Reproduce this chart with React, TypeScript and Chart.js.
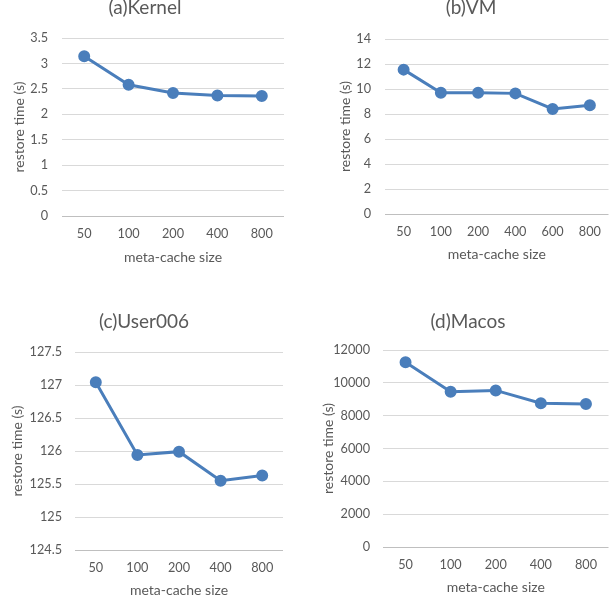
import React, { useEffect, useRef } from "react";
import { Chart, registerables } from "chart.js";

Chart.register(...registerables);

// ---- data ----
const kernelSizes = ["50", "100", "200", "400", "800"];
const kernelTimes = [3.14, 2.58, 2.42, 2.37, 2.36];

const vmSizes = ["50", "100", "200", "400", "600", "800"];
const vmTimes = [11.55, 9.7, 9.7, 9.65, 8.4, 8.7];

const userSizes = ["50", "100", "200", "400", "800"];
const userTimes = [127.04, 125.94, 125.99, 125.55, 125.63];

const macosSizes = ["50", "100", "200", "400", "800"];
const macosTimes = [11250, 9460, 9540, 8760, 8710];

const xAxisLabel = "meta-cache size";
const yAxisLabel = "restore time (s)";

// ---- style ----
const FONT = "Lato, 'Open Sans', sans-serif";
const TEXT = "#595959";
const LINE = "#4a7ebb";
const TITLE_SIZE = 19;
const AXIS_SIZE = 14;
const TICK_SIZE = 12.7;

type Box = { left: number; top: number; width: number; height: number };
type Area = { left: number; right: number; top: number; bottom: number };

type PanelProps = {
  title: string;
  labels: string[];
  values: number[];
  min: number;
  max: number;
  step: number;
  box: Box;
  area: Area;
  titleCY: number;
  yTitleCX: number;
  xTitleCY: number;
  yTickPad: number;
};

function Panel(p: PanelProps) {
  const ref = useRef<HTMLCanvasElement | null>(null);
  useEffect(() => {
    if (!ref.current) return;
    const { box, area } = p;
    const padRight = box.left + box.width - area.right;
    const yWidth = area.left - box.left;
    const xHeight = box.top + box.height - area.bottom;
    const tLH = TITLE_SIZE * 1.2;
    const tTop = p.titleCY - box.top - tLH / 2;
    const tBottom = area.top - box.top - tTop - tLH;
    const aLH = AXIS_SIZE * 1.2;
    const kLH = TICK_SIZE * 1.2;
    const yTitlePad = Math.max(0, p.yTitleCX - box.left - aLH / 2);
    const xTitlePad = Math.max(0, box.top + box.height - p.xTitleCY - aLH / 2);
    const xTickPad = 18 - kLH / 2;

    const chart = new Chart(ref.current, {
      type: "line",
      data: {
        labels: p.labels,
        datasets: [
          {
            data: p.values,
            borderColor: LINE,
            backgroundColor: LINE,
            pointBackgroundColor: LINE,
            pointBorderColor: LINE,
            borderWidth: 3,
            pointRadius: 4.5,
            tension: 0,
          },
        ],
      },
      options: {
        animation: false,
        responsive: false,
        layout: { padding: { left: 0, top: 0, right: padRight, bottom: 0 } },
        plugins: {
          legend: { display: false },
          tooltip: { enabled: false },
          title: {
            display: true,
            text: p.title,
            color: TEXT,
            font: { family: FONT, size: TITLE_SIZE, weight: "normal" },
            padding: { top: tTop, bottom: tBottom },
          },
        },
        scales: {
          x: {
            type: "category",
            offset: true,
            grid: { display: false, drawTicks: false },
            border: { display: false },
            ticks: {
              color: TEXT,
              font: { family: FONT, size: TICK_SIZE },
              padding: xTickPad,
              maxRotation: 0,
              autoSkip: false,
            },
            title: {
              display: true,
              text: xAxisLabel,
              color: TEXT,
              font: { family: FONT, size: AXIS_SIZE },
              padding: { top: 0, bottom: xTitlePad },
            },
            afterFit: (s: any) => {
              s.height = xHeight;
            },
          },
          y: {
            min: p.min,
            max: p.max,
            grid: {
              color: (ctx: any) => (ctx.index === 0 ? "#bfbfbf" : "#d9d9d9"),
              lineWidth: 1,
              drawTicks: false,
            },
            border: { display: false },
            ticks: {
              stepSize: p.step,
              color: TEXT,
              font: { family: FONT, size: TICK_SIZE },
              padding: p.yTickPad,
              callback: (v: any) => String(v),
            },
            title: {
              display: true,
              text: yAxisLabel,
              color: TEXT,
              font: { family: FONT, size: AXIS_SIZE },
              padding: { top: yTitlePad, bottom: 0 },
            },
            afterFit: (s: any) => {
              s.width = yWidth;
            },
          },
        },
      },
    });
    return () => chart.destroy();
  }, []);
  return (
    <canvas
      ref={ref}
      width={p.box.width}
      height={p.box.height}
      style={{
        position: "absolute",
        left: p.box.left,
        top: p.box.top,
        width: p.box.width,
        height: p.box.height,
      }}
    />
  );
}

export default function App() {
  return (
    <div
      style={{
        position: "fixed",
        left: 0,
        top: 0,
        width: 616,
        height: 603,
        overflow: "hidden",
        background: "#ffffff",
      }}
    >
      <Panel
        title="(a)Kernel"
        labels={kernelSizes}
        values={kernelTimes}
        min={0}
        max={3.5}
        step={0.5}
        box={{ left: 6, top: -12, width: 294, height: 282 }}
        area={{ left: 62, right: 284, top: 38, bottom: 216 }}
        titleCY={8}
        yTitleCX={19}
        xTitleCY={257}
        yTickPad={14}
      />
      <Panel
        title="(b)VM"
        labels={vmSizes}
        values={vmTimes}
        min={0}
        max={14}
        step={2}
        box={{ left: 330, top: -12, width: 286, height: 282 }}
        area={{ left: 385, right: 612, top: 39, bottom: 214 }}
        titleCY={8}
        yTitleCX={345}
        xTitleCY={254}
        yTickPad={14}
      />
      <Panel
        title="(c)User006"
        labels={userSizes}
        values={userTimes}
        min={124.5}
        max={127.5}
        step={0.5}
        box={{ left: 5, top: 300, width: 295, height: 303 }}
        area={{ left: 75, right: 283, top: 352, bottom: 550 }}
        titleCY={322}
        yTitleCX={17}
        xTitleCY={590}
        yTickPad={13}
      />
      <Panel
        title="(d)Macos"
        labels={macosSizes}
        values={macosTimes}
        min={0}
        max={12000}
        step={2000}
        box={{ left: 320, top: 300, width: 296, height: 303 }}
        area={{ left: 383, right: 616, top: 350, bottom: 547 }}
        titleCY={322}
        yTitleCX={328}
        xTitleCY={587}
        yTickPad={13}
      />
    </div>
  );
}
